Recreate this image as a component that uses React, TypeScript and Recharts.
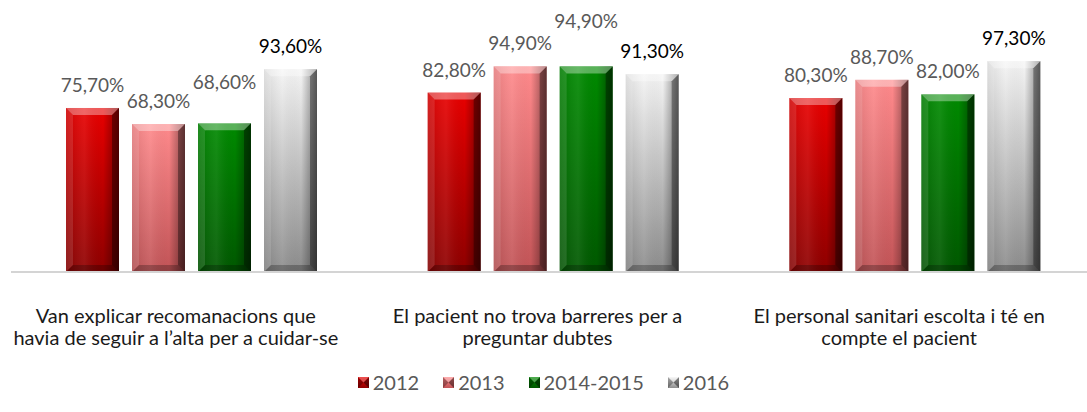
import { BarChart, Bar, XAxis, YAxis, LabelList } from "recharts";

// categories (line breaks as in the original chart)
const categories = [
  "Van explicar recomanacions que\nhavia de seguir a l\u2019alta per a cuidar-se",
  "El pacient no trova barreres per a\npreguntar dubtes",
  "El personal sanitari escolta i té en\ncompte el pacient",
];

// percentage values per series
const v2012 = [75.7, 82.8, 80.3];
const v2013 = [68.3, 94.9, 88.7];
const v20142015 = [68.6, 94.9, 82.0];
const v2016 = [93.6, 91.3, 97.3];

const seriesNames = ["2012", "2013", "2014-2015", "2016"];
const seriesKeys = ["s2012", "s2013", "s2014", "s2016"];

const data = categories.map((name, i) => ({
  name,
  s2012: v2012[i],
  s2013: v2013[i],
  s2014: v20142015[i],
  s2016: v2016[i],
}));

// top / bottom colour of each bar gradient
const palette = [
  { key: "s2012", top: "#e80000", bottom: "#8e0000", label: "#595959" },
  { key: "s2013", top: "#ff8a8c", bottom: "#c25457", label: "#595959" },
  { key: "s2014", top: "#008a00", bottom: "#005800", label: "#595959" },
  { key: "s2016", top: "#f4f4f4", bottom: "#8c8c8c", label: "#000000" },
];

// labels moved up by hand in the original to avoid overlaps (px)
const labelLift: Record<string, number[]> = { s2014: [18, 22, 0] };

const FONT = "Lato, 'Open Sans', sans-serif";

const fmt = (v: any) => `${Number(v).toFixed(2).replace(".", ",")}%`;

const BevelBar = (props: any) => {
  const { x, y, width, height, gid } = props;
  if (!height || height <= 0) return null;
  const b = Math.min(7, width / 4);
  return (
    <g>
      <rect x={x} y={y} width={width} height={height} fill={`url(#v-${gid})`} />
      <rect x={x} y={y} width={width} height={height} fill="url(#shade)" />
      <polygon points={`${x},${y} ${x + width},${y} ${x + width - b},${y + b} ${x + b},${y + b}`} fill="#fff" fillOpacity={0.35} />
      <polygon points={`${x},${y} ${x + b},${y + b} ${x + b},${y + height - b} ${x},${y + height}`} fill="#fff" fillOpacity={0.12} />
      <polygon points={`${x + width},${y} ${x + width},${y + height} ${x + width - b},${y + height - b} ${x + width - b},${y + b}`} fill="#000" fillOpacity={0.35} />
      <polygon points={`${x},${y + height} ${x + width},${y + height} ${x + width - b},${y + height - b} ${x + b},${y + height - b}`} fill="#000" fillOpacity={0.25} />
    </g>
  );
};

const makeLabel = (key: string, color: string) => (props: any) => {
  const { x, y, width, value, index } = props;
  const lift = (labelLift[key] || [])[index] || 0;
  return (
    <text
      x={x + width / 2}
      y={y - 16 - lift}
      textAnchor="middle"
      fill={color}
      fontSize={19}
      fontFamily={FONT}
    >
      {fmt(value)}
    </text>
  );
};

const CatTick = (props: any) => {
  const { x, y, payload } = props;
  const lines = String(payload.value).split("\n");
  return (
    <g transform={`translate(${x - 16},${y})`}>
      {lines.map((l, i) => (
        <text key={i} x={0} y={43 + i * 22} textAnchor="middle" fill="#1a1a1a" fontSize={20} fontFamily={FONT}>
          {l}
        </text>
      ))}
    </g>
  );
};

const LegendIcon = ({ p }: { p: (typeof palette)[number] }) => (
  <svg width={11} height={11} style={{ marginRight: 4 }}>
    <defs>
      <linearGradient id={`lg-${p.key}`} x1="0" y1="0" x2="0" y2="1">
        <stop offset="0%" stopColor={p.top} />
        <stop offset="100%" stopColor={p.bottom} />
      </linearGradient>
    </defs>
    <rect x={0} y={0} width={11} height={11} fill={`url(#lg-${p.key})`} />
    <polygon points="0,0 5.5,5.5 0,11" fill="#000" fillOpacity={0.3} />
    <polygon points="11,0 5.5,5.5 11,11" fill="#000" fillOpacity={0.45} />
    <polygon points="0,0 11,0 5.5,5.5" fill="#fff" fillOpacity={0.3} />
  </svg>
);

export default function App() {
  return (
    <div style={{ position: "relative", width: 1087, height: 412, background: "#fff" }}>
      <style>{`body{margin:0}`}</style>
      <BarChart
        width={1087}
        height={412}
        data={data}
        margin={{ top: 12, right: -9, left: 11, bottom: 0 }}
        barGap={13}
        barSize={53}
      >
        <defs>
          {palette.map((p) => (
            <linearGradient key={p.key} id={`v-${p.key}`} x1="0" y1="0" x2="0" y2="1">
              <stop offset="0%" stopColor={p.top} />
              <stop offset="100%" stopColor={p.bottom} />
            </linearGradient>
          ))}
          <linearGradient id="shade" x1="0" y1="0" x2="1" y2="0">
            <stop offset="0%" stopColor="#000" stopOpacity={0.1} />
            <stop offset="35%" stopColor="#fff" stopOpacity={0.08} />
            <stop offset="70%" stopColor="#000" stopOpacity={0} />
            <stop offset="100%" stopColor="#000" stopOpacity={0.45} />
          </linearGradient>
        </defs>
        <XAxis
          dataKey="name"
          height={140}
          axisLine={{ stroke: "#d4d4d4", strokeWidth: 2 }}
          tickLine={false}
          tick={<CatTick />}
          interval={0}
        />
        <YAxis hide domain={[0, 120]} />
        {palette.map((p, i) => (
          <Bar
            key={p.key}
            dataKey={seriesKeys[i]}
            name={seriesNames[i]}
            isAnimationActive={false}
            shape={(props: any) => <BevelBar {...props} gid={p.key} />}
          >
            <LabelList dataKey={seriesKeys[i]} content={makeLabel(p.key, p.label)} />
          </Bar>
        ))}
      </BarChart>
      <div
        style={{
          position: "absolute",
          top: 370,
          left: 0,
          width: 1087,
          display: "flex",
          justifyContent: "center",
          alignItems: "center",
          fontFamily: FONT,
          fontSize: 20,
          color: "#595959",
        }}
      >
        {palette.map((p, i) => (
          <div key={p.key} style={{ display: "flex", alignItems: "center", marginLeft: i === 0 ? 0 : 24 }}>
            <LegendIcon p={p} />
            <span>{seriesNames[i]}</span>
          </div>
        ))}
      </div>
    </div>
  );
}
